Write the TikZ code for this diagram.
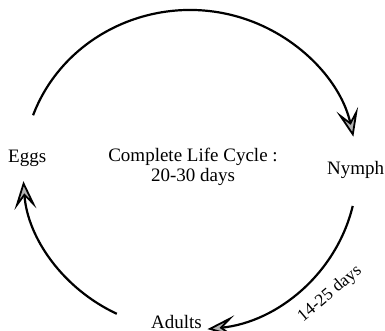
\documentclass[tikz,border=0pt]{standalone}
\usepackage{fontspec}
\setmainfont{Liberation Serif}
\usetikzlibrary{arrows.meta}
\begin{document}
\begin{tikzpicture}[x=1pt,y=-1pt,
  cyc/.style={line width=2.2pt,draw=black,
    -{Stealth[length=28pt,width=22pt,inset=13pt,fill=gray!60,line width=1.8pt]}},
  lbl/.style={inner sep=0pt,font=\fontsize{19}{19.5}\selectfont}]
\useasboundingbox (0,0) rectangle (385,331);
% text nodes
\node[lbl,anchor=base west] (eggs) at (8,163) {Eggs};
\node[lbl,anchor=base west] (nymph) at (327,175) {Nymph};
\node[lbl,anchor=base west] (adults) at (151,328) {Adults};
\node[lbl,align=center,anchor=center] (title) at (193,167) {Complete Life Cycle :\\20-30 days};
\node[lbl,font=\fontsize{17.5}{19}\selectfont,rotate=40] (dur) at (330,294) {14-25 days};
% arc starts (on an ellipse centred at (190,170), radii 167 and 160)
\coordinate (c) at (190,170);
\path (c) ++(-160:167 and 160) coordinate (topS);
\path (c) ++(13:167 and 160) coordinate (rightS);
\path (c) ++(116:167 and 160) coordinate (leftS);
\draw[cyc] (topS) arc[start angle=-160,end angle=-12,x radius=167,y radius=160];
\draw[cyc] (rightS) arc[start angle=13,end angle=84,x radius=167,y radius=160];
\draw[cyc] (leftS) arc[start angle=116,end angle=176,x radius=167,y radius=160];
\end{tikzpicture}
\end{document}
